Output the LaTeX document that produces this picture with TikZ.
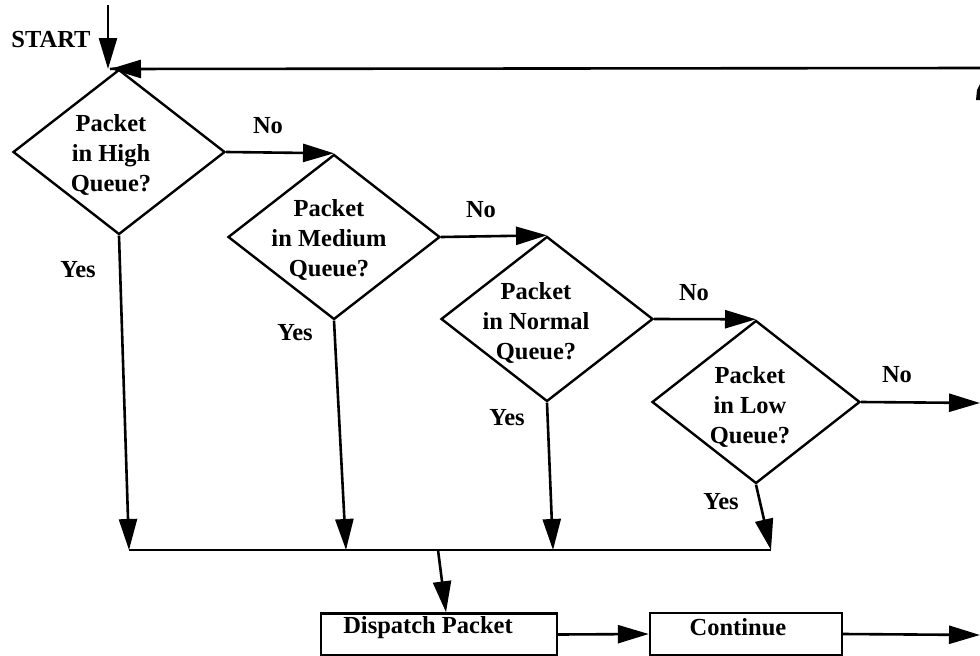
\documentclass[tikz,border=0pt]{standalone}
\usepackage{fontspec}
\setmainfont{Liberation Serif}
\usetikzlibrary{shapes.geometric,arrows.meta}
\tikzset{
  lbl/.style={font=\bfseries\fontsize{24.5}{30}\selectfont, inner sep=0pt},
  dia/.style={draw, diamond, line width=2.4pt, inner sep=0pt, minimum width=212pt, minimum height=165pt},
  boxnode/.style={draw, rectangle, line width=2.4pt, inner sep=0pt, minimum width=236pt, minimum height=42pt},
  conn/.style={line width=2.6pt, -{Triangle[length=31pt,width=18pt]}},
  wire/.style={line width=2.6pt},
}
\begin{document}
\begin{tikzpicture}[x=1pt,y=-1pt]
\useasboundingbox (0,0) rectangle (980,656);
% diamonds
\node[dia] (d1) at (119,152) {};
\node[dia] (d2) at (334,237) {};
\node[dia] (d3) at (547,319) {};
\node[dia, minimum width=208pt, minimum height=163pt] (d4) at (756,402) {};
% diamond texts
\node[lbl, align=center] (t1) at (111,155) {Packet\\in High\\Queue?};
\node[lbl, align=center] (t2) at (329,240) {Packet\\in Medium\\Queue?};
\node[lbl, align=center] (t3) at (536,323) {Packet\\in Normal\\Queue?};
\node[lbl, align=center] (t4) at (750,407) {Packet\\in Low\\Queue?};
% boxes
\node[boxnode] (disp) at (439,634.5) {};
\node[lbl] (dispt) at (428,628) {Dispatch Packet};
\node[boxnode, minimum width=192pt] (cont) at (746,634) {};
\node[lbl] (contt) at (738,627) {Continue};
% start
\node[lbl] (start) at (51,40) {START};
\coordinate (s0) at (108,5);
\coordinate (top) at (110,69);
\coordinate (fb) at (980,68);
\draw[conn] (s0) -- (s0 |- top);
\draw[conn] (fb) -- (top);
\draw[wire] (top) -- (d1.north);
\fill (976,100) -- (977,90) -- (980,84) -- (980,100) -- cycle;
% No branches
\draw[conn] (d1.east) -- (d2.north);
\draw[conn] (d2.east) -- (d3.north);
\draw[conn] (d3.east) -- (d4.north);
\coordinate (o1) at (980,403);
\draw[conn] (d4.east) -- (o1);
\node[lbl] (n1) at (268,126) {No};
\node[lbl] (n2) at (481,210) {No};
\node[lbl] (n3) at (694,293) {No};
\node[lbl] (n4) at (897,375) {No};
% Yes branches
\coordinate (b1) at (129,550);
\coordinate (b2) at (346,550);
\coordinate (b3) at (553,550);
\coordinate (b4) at (771,550);
\draw[conn] (d1.south) -- (b1);
\draw[conn] (d2.south) -- (b2);
\draw[conn] (d3.south) -- (b3);
\draw[conn] (d4.south) -- (b4);
\node[lbl] (y1) at (78,270) {Yes};
\node[lbl] (y2) at (295,333) {Yes};
\node[lbl] (y3) at (507,418) {Yes};
\node[lbl] (y4) at (721,502) {Yes};
% bus
\draw[wire] (b1) -- (b4);
\coordinate (bd) at (438,550);
\draw[conn] (bd) -- ([xshift=7pt]disp.north);
\draw[conn] (disp.east) -- (cont.west);
\coordinate (o2) at (980,635);
\draw[conn] (cont.east) -- (o2);
\end{tikzpicture}
\end{document}
